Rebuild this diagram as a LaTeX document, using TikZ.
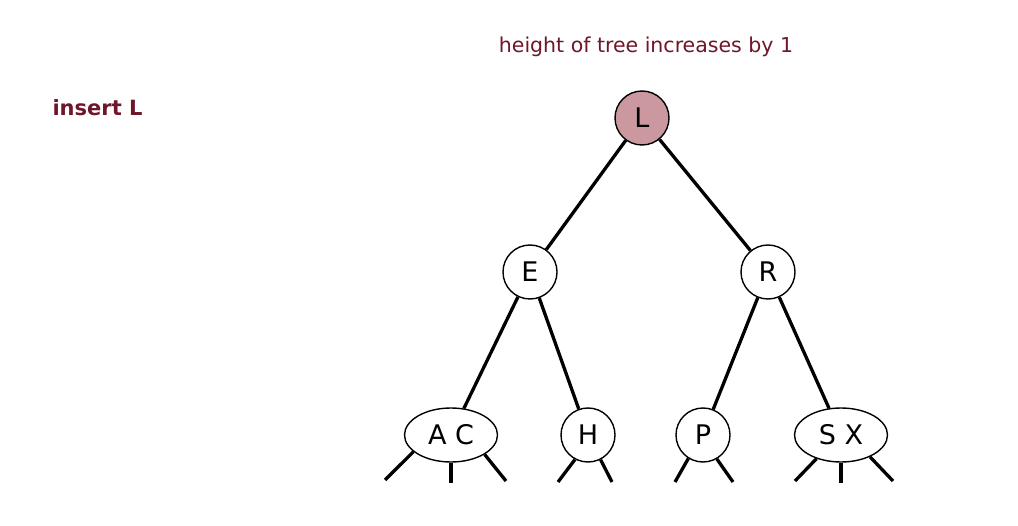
\documentclass[tikz,border=0pt]{standalone}
\usepackage{fontspec}
\setmainfont{DejaVu Sans}
\usetikzlibrary{shapes.geometric}
\definecolor{maroon}{RGB}{110,22,42}
\definecolor{rootfill}{RGB}{204,152,160}
\tikzset{
  tnode/.style={draw=black, line width=1.4pt, fill=white, circle, minimum size=54pt, inner sep=0pt, font=\fontsize{27}{27}\selectfont},
  enode/.style={draw=black, line width=1.4pt, fill=white, ellipse, minimum width=93pt, minimum height=54pt, inner sep=0pt, font=\fontsize{27}{27}\selectfont},
  link/.style={line width=3.3pt, black},
}
\begin{document}
\begin{tikzpicture}[x=1pt,y=1pt]
\useasboundingbox (0,0) rectangle (1018,-526);
\node[font=\fontsize{21}{21}\selectfont\bfseries, text=maroon, anchor=west] (ins) at (49,-108) {insert L};
\node[font=\fontsize{20.5}{20.5}\selectfont, text=maroon] (hdr) at (646,-47) {height of tree increases by 1};

\coordinate (acl) at (385,-480);
\coordinate (acm) at (451,-483);
\coordinate (acr) at (506,-481);
\coordinate (hl) at (558,-482);
\coordinate (hr) at (612,-482);
\coordinate (pl) at (675,-482);
\coordinate (pr) at (733,-482);
\coordinate (sxl) at (795,-481);
\coordinate (sxm) at (841,-483);
\coordinate (sxr) at (893,-481);

\node[tnode, fill=rootfill] (L) at (642,-118) {L};
\node[tnode] (E) at (530,-272) {E};
\node[tnode] (R) at (768,-272) {R};
\node[enode] (AC) at (451,-435) {A C};
\node[tnode] (H) at (588,-435) {H};
\node[tnode] (P) at (703,-435) {P};
\node[enode] (SX) at (841,-435) {S X};

\draw[link] (L) -- (E);
\draw[link] (L) -- (R);
\draw[link] (E) -- (AC);
\draw[link] (E) -- (H);
\draw[link] (R) -- (P);
\draw[link] (R) -- (SX);

\draw[link] (AC.204) -- (acl);
\draw[link] (AC.south) -- (acm);
\draw[link] (AC.-30) -- (acr);
\draw[link] (H.242) -- (hl);
\draw[link] (H.-63) -- (hr);
\draw[link] (P.-122) -- (pl);
\draw[link] (P.-60) -- (pr);
\draw[link] (SX.-136) -- (sxl);
\draw[link] (SX.south) -- (sxm);
\draw[link] (SX.-37) -- (sxr);
\end{tikzpicture}
\end{document}
